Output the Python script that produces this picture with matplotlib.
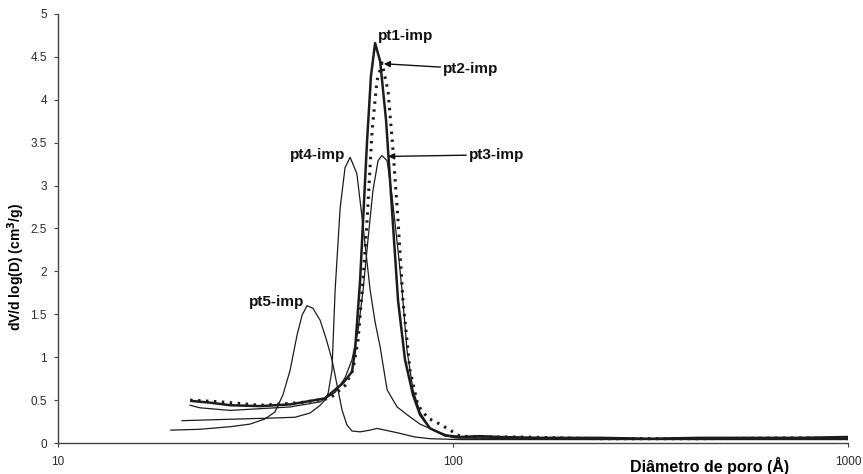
import numpy as np
import matplotlib
matplotlib.use("Agg")
import matplotlib.pyplot as plt
from matplotlib.ticker import FixedLocator, FuncFormatter

plt.rcParams['font.family'] = ['Liberation Sans', 'DejaVu Sans']

# pore diameter (A) and dV/dlog(D) (cm3/g) for each sample
pt1_d = [21.8, 24.3, 27.3, 32.5, 38.7, 43.5, 47.4, 52.7, 55.5, 56.5, 58.2, 59.2, 60.6,
         62.0, 63.5, 65.4, 67.7, 70.1, 72.6, 75.6, 79.2, 82.5, 87.5, 95.5, 104, 117,
         132, 166, 236, 315, 422, 756, 1000]
pt1_v = [0.49, 0.47, 0.44, 0.43, 0.45, 0.49, 0.52, 0.70, 0.83, 1.08, 1.90, 2.59, 3.52,
         4.28, 4.66, 4.45, 3.76, 2.71, 1.66, 0.97, 0.56, 0.33, 0.17, 0.09, 0.07, 0.08,
         0.07, 0.06, 0.06, 0.05, 0.06, 0.06, 0.07]

pt2_d = [21.6, 25.7, 32.5, 41.0, 48.8, 53.3, 55.8, 57.5, 59.2, 60.6, 62.4, 64.2, 66.1,
         68.5, 70.5, 72.6, 74.7, 77.8, 81.5, 86.4, 92.7, 98.3, 104, 117, 148, 236,
         422, 756, 1000]
pt2_v = [0.50, 0.48, 0.44, 0.47, 0.52, 0.67, 0.85, 1.20, 1.90, 2.59, 3.64, 4.22, 4.43,
         4.10, 3.41, 2.59, 1.66, 0.85, 0.44, 0.29, 0.22, 0.15, 0.08, 0.07, 0.07, 0.05,
         0.05, 0.06, 0.05]

pt3_d = [21.6, 22.9, 27.3, 32.5, 38.7, 46.1, 50.3, 53.3, 55.5, 57.5, 59.2, 60.9, 62.7,
         64.6, 66.1, 68.1, 70.1, 72.6, 74.3, 76.5, 79.2, 82.5, 87.5, 95.5, 104, 166,
         422, 1000]
pt3_v = [0.44, 0.41, 0.38, 0.40, 0.42, 0.48, 0.59, 0.76, 0.97, 1.31, 1.78, 2.36, 2.94,
         3.29, 3.35, 3.29, 2.88, 2.24, 1.78, 1.08, 0.62, 0.36, 0.17, 0.08, 0.06, 0.05,
         0.05, 0.05]

pt4_d = [20.6, 24.3, 28.9, 34.4, 39.8, 43.5, 46.1, 47.4, 48.3, 49.4, 50.3, 51.8, 53.3,
         54.9, 57.1, 59.2, 61.7, 63.5, 65.4, 68.1, 72.2, 76.5, 82.5, 92.7, 101, 166,
         422, 1000]
pt4_v = [0.26, 0.27, 0.28, 0.29, 0.30, 0.35, 0.44, 0.50, 0.58, 0.85, 1.78, 2.74, 3.21,
         3.33, 3.14, 2.53, 1.78, 1.41, 1.12, 0.62, 0.42, 0.33, 0.22, 0.12, 0.06, 0.05,
         0.05, 0.05]

pt5_d = [19.3, 22.9, 27.3, 30.6, 33.4, 35.4, 37.1, 38.7, 40.3, 41.5, 42.7, 44.2, 46.1,
         47.7, 49.4, 50.9, 52.4, 53.9, 55.5, 58.2, 61.7, 64.2, 67.3, 72.2, 80.1, 87.5,
         104, 236, 1000]
pt5_v = [0.15, 0.16, 0.19, 0.22, 0.28, 0.36, 0.56, 0.85, 1.26, 1.49, 1.60, 1.57, 1.43,
         1.22, 0.97, 0.67, 0.38, 0.21, 0.14, 0.13, 0.15, 0.17, 0.15, 0.12, 0.07, 0.05,
         0.04, 0.04, 0.04]

fig = plt.figure(figsize=(8.63, 4.74), dpi=100)
ax = fig.add_axes([0.0672, 0.0654, 0.9154, 0.9051])

ink = '#1c1c1c'
ax.plot(pt5_d, pt5_v, color=ink, lw=0.9)
ax.plot(pt4_d, pt4_v, color=ink, lw=0.9)
ax.plot(pt3_d, pt3_v, color=ink, lw=0.9)
ax.plot(pt2_d, pt2_v, color=ink, lw=2.2, linestyle=(0, (0.8, 1.8)))
ax.plot(pt1_d, pt1_v, color=ink, lw=1.8)

ax.set_xscale('log')
ax.set_xlim(10, 1000)
ax.set_ylim(0, 5)

for side in ['top', 'right']:
    ax.spines[side].set_visible(False)
for side in ['left', 'bottom']:
    ax.spines[side].set_color('#444444')
    ax.spines[side].set_linewidth(1.0)

ax.xaxis.set_major_locator(FixedLocator([10, 100, 1000]))
ax.xaxis.set_minor_locator(FixedLocator([]))
ax.xaxis.set_major_formatter(FuncFormatter(lambda v, p: '%d' % v))
ax.yaxis.set_major_locator(FixedLocator(np.arange(0, 5.01, 0.5)))
ax.yaxis.set_major_formatter(FuncFormatter(lambda v, p: ('%g' % v)))
ax.tick_params(axis='both', direction='out', length=3, width=0.8, color='#444444',
               labelsize=8.5, labelcolor='#2a2a2a')
ax.tick_params(axis='y', pad=5)
ax.tick_params(axis='x', pad=6)

# axis titles
ax.text(-0.053, 0.41, 'dV/d log(D) (cm$^\\mathbf{3}$/g)', transform=ax.transAxes,
        rotation=90, fontsize=10, fontweight='bold', ha='center', va='center')
ax.text(0.825, -0.054, 'Diâmetro de poro (Å)', transform=ax.transAxes, fontsize=11.5,
        fontweight='bold', ha='center', va='center', clip_on=False)

lab = dict(fontsize=11, fontweight='bold', ha='center', va='center', color='#111111')
ax.text(76.0, 4.74, 'pt1-imp', **lab)
ax.text(45.5, 3.36, 'pt4-imp', **lab)
ax.text(35.8, 1.64, 'pt5-imp', **lab)
arrow = dict(arrowstyle='-|>', color='#111111', lw=1.0, mutation_scale=9, shrinkA=0, shrinkB=0)
ax.annotate('pt2-imp', xy=(66.8, 4.42), xytext=(111, 4.36), arrowprops=arrow, **lab)
ax.annotate('pt3-imp', xy=(68.5, 3.34), xytext=(129, 3.36), arrowprops=arrow, **lab)

fig.savefig('out.png', dpi=100)
